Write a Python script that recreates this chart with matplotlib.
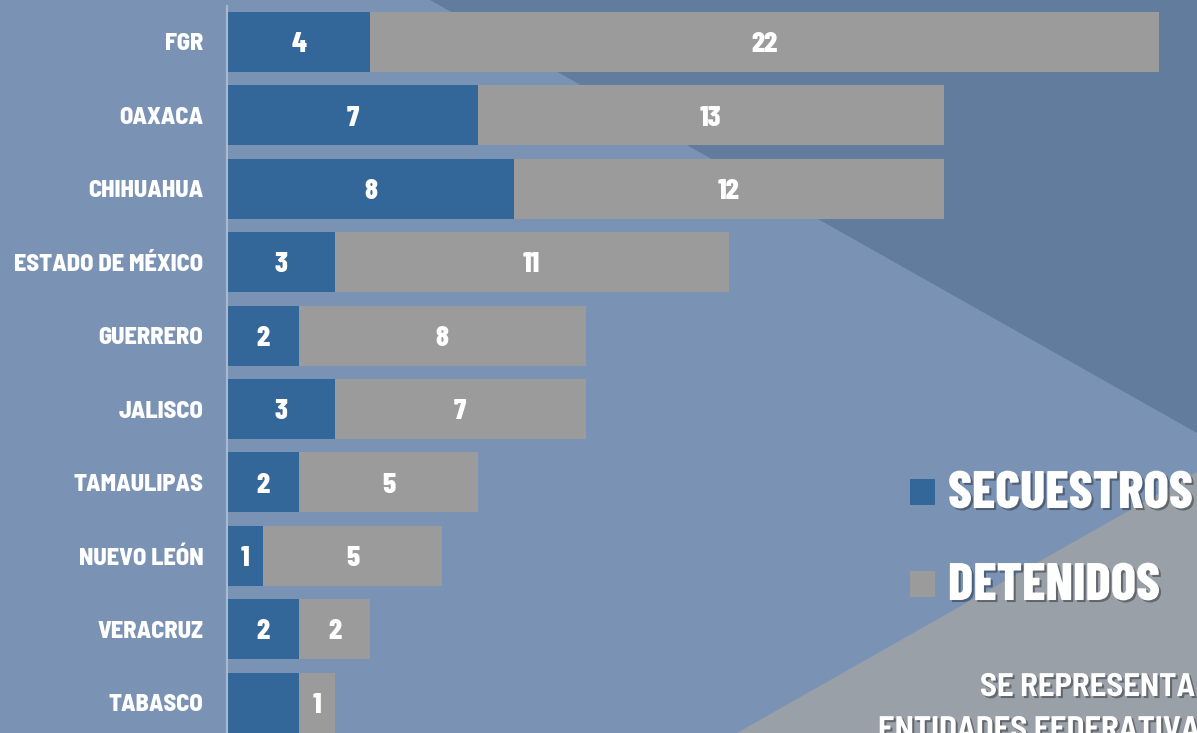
import matplotlib
matplotlib.use("Agg")
import matplotlib.pyplot as plt
from matplotlib.patches import Polygon, Rectangle
import matplotlib.patheffects as pe

plt.rcParams['font.family'] = ['Barlow Condensed', 'DejaVu Sans']
plt.rcParams['font.weight'] = 'extra bold'
semi = ['Barlow Semi Condensed', 'DejaVu Sans']

# datos
entidades = ["FGR", "OAXACA", "CHIHUAHUA", "ESTADO DE MÉXICO", "GUERRERO",
             "JALISCO", "TAMAULIPAS", "NUEVO LEÓN", "VERACRUZ", "TABASCO"]
secuestros = [4, 7, 8, 3, 2, 3, 2, 1, 2, 2]
detenidos = [22, 13, 12, 11, 8, 7, 5, 5, 2, 1]
etiquetas_sec = ["4", "7", "8", "3", "2", "3", "2", "1", "2", ""]  # tabasco va sin número
series = ["SECUESTROS", "DETENIDOS"]
colores = ["#336699", "#9b9b9b"]
nota = ["SE REPRESENTA", "ENTIDADES FEDERATIVA"]

W, H = 1197, 733
fig = plt.figure(figsize=(W / 100, H / 100), dpi=100, facecolor="#7a93b5")

def fx(px):
    return px / W

def fy(py):
    return 1 - py / H

# fondo con triangulos
fig.patches.append(Polygon([(fx(430), 1), (1, 1), (1, fy(433))], closed=True,
                           transform=fig.transFigure, fc="#617c9d", ec="none", zorder=-10))
fig.patches.append(Polygon([(fx(737), 0), (1, 0), (1, fy(472))], closed=True,
                           transform=fig.transFigure, fc="#9aa0a8", ec="none", zorder=-10))

ax = fig.add_axes([fx(227), 0, 1 - fx(227), 1])
ax.set_facecolor("none")

y = list(range(len(entidades)))
b1 = ax.barh(y, secuestros, height=0.817, color=colores[0])
b2 = ax.barh(y, detenidos, left=secuestros, height=0.817, color=colores[1])

labs = ax.bar_label(b1, labels=etiquetas_sec, label_type='center', color='white', fontsize=21)
labs += ax.bar_label(b2, label_type='center', color='white', fontsize=21)
for t in labs:
    t.xyann = (0, -2)

ax.set_xlim(0, 970 / 35.85)
ax.set_ylim(9.414, -0.572)
ax.set_xticks([])
ax.set_yticks(y, entidades)
ax.tick_params(axis='y', length=0, pad=17, labelcolor='white', labelsize=17.5)
for t in ax.get_yticklabels():
    t.set_family(semi)
    t.set_weight('extra bold')
for s in ['top', 'right', 'bottom']:
    ax.spines[s].set_visible(False)
ax.spines['left'].set_color("#a9bad0")
ax.spines['left'].set_linewidth(1.5)
ax.spines['left'].set_bounds(-0.49, 9.414)

# leyenda a mano
sombra = [pe.withSimplePatchShadow(offset=(1.5, -1.5), shadow_rgbFace='k', alpha=0.35)]
for i, (nombre, col) in enumerate(zip(series, colores)):
    yc = 492 + i * 92
    fig.patches.append(Rectangle((fx(910), fy(yc + 13)), 25 / W, 26 / H,
                                 transform=fig.transFigure, fc=col, ec="none"))
    fig.text(fx(948), fy(yc + 2), nombre, color='white', fontsize=38,
             va='center', ha='left', path_effects=sombra)

fig.text(fx(980), fy(673), nota[0], color='white', fontsize=23.5, family=semi,
         weight='bold', va='top', ha='left', path_effects=sombra)
fig.text(fx(878), fy(716), nota[1], color='white', fontsize=23.5, family=semi,
         weight='bold', va='top', ha='left', path_effects=sombra)

fig.savefig("out.png", dpi=100, facecolor=fig.get_facecolor())
